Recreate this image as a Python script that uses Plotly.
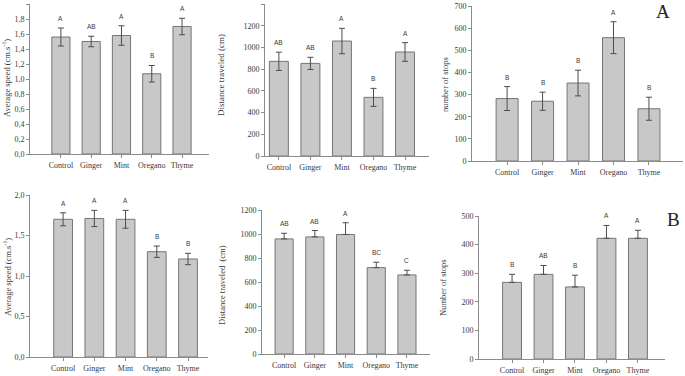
import plotly.graph_objects as go

categories = ["Control", "Ginger", "Mint", "Oregano", "Thyme"]

# Panel A
speed_a = [1.56, 1.50, 1.58, 1.07, 1.70]
speed_a_err = [0.12, 0.07, 0.13, 0.11, 0.11]
speed_a_letters = ["A", "AB", "A", "B", "A"]

dist_a = [872, 853, 1059, 540, 958]
dist_a_err = [84, 56, 117, 83, 86]
dist_a_letters = ["AB", "AB", "A", "B", "A"]

stops_a = [282, 270, 352, 557, 236]
stops_a_err = [54, 41, 58, 72, 52]
stops_a_letters = ["B", "B", "B", "A", "B"]

# Panel B
speed_b = [1.70, 1.71, 1.70, 1.30, 1.21]
speed_b_err = [0.08, 0.10, 0.11, 0.07, 0.07]
speed_b_letters = ["A", "A", "A", "B", "B"]

dist_b = [959, 976, 996, 720, 659]
dist_b_err = [47, 53, 98, 45, 39]
dist_b_letters = ["AB", "AB", "A", "BC", "C"]

stops_b = [268, 296, 252, 422, 422]
stops_b_err = [28, 31, 41, 45, 28]
stops_b_letters = ["B", "AB", "B", "A", "A"]

W, H = 685, 376
SERIF = "Liberation Serif"
AX = "#8c8c8c"
TXT = "#3a3a3a"

panels = [
    dict(vals=speed_a, err=speed_a_err, letters=speed_a_letters, both=True,
         px=(30, 209), py=(4, 154), yr=[0, 2], xr=[-1.02, 4.89], bw=0.6,
         tickvals=[0, 0.2, 0.4, 0.6, 0.8, 1.0, 1.2, 1.4, 1.6, 1.8, 2.0],
         ticktext=["0,0", "0,2", "0,4", "0,6", "0,8", "1,0", "1,2", "1,4", "1,6", "1,8", "2,0"],
         title="Average speed (cm.s<sup>-1</sup>)", tpos=(7, 78), tsize=8.5),
    dict(vals=dist_a, err=dist_a_err, letters=dist_a_letters, both=True,
         px=(265, 429), py=(4, 156), yr=[0, 1400], xr=[-0.44, 4.76], bw=0.6,
         tickvals=[0, 200, 400, 600, 800, 1000, 1200, 1400],
         ticktext=["0", "200", "400", "600", "800", "1000", "1200", "1400"],
         title="Distance traveled (cm)", tpos=(221, 75), tsize=9),
    dict(vals=stops_a, err=stops_a_err, letters=stops_a_letters, both=True,
         px=(472, 683), py=(6, 161), yr=[0, 700], xr=[-0.99, 4.96], bw=0.62,
         tickvals=[0, 100, 200, 300, 400, 500, 600, 700],
         ticktext=["0", "100", "200", "300", "400", "500", "600", "700"],
         title="number of stops", tpos=(445, 85), tsize=8.5),
    dict(vals=speed_b, err=speed_b_err, letters=speed_b_letters, both=True,
         px=(30, 208), py=(195, 357), yr=[0, 2], xr=[-1.06, 4.64], bw=0.6,
         tickvals=[0, 0.5, 1.0, 1.5, 2.0],
         ticktext=["0,0", "0,5", "1,0", "1,5", "2,0"],
         title="Average speed (cm.s<sup>-1</sup>)", tpos=(7, 277), tsize=8.5),
    dict(vals=dist_b, err=dist_b_err, letters=dist_b_letters, both=False,
         px=(262, 430), py=(210, 354), yr=[0, 1200], xr=[-0.72, 4.75], bw=0.59,
         tickvals=[0, 200, 400, 600, 800, 1000, 1200],
         ticktext=["0", "200", "400", "600", "800", "1000", "1200"],
         title="Distance traveled  (cm)", tpos=(222, 285), tsize=8.5),
    dict(vals=stops_b, err=stops_b_err, letters=stops_b_letters, both=False,
         px=(479, 665), py=(216, 359), yr=[0, 500], xr=[-1.05, 4.86], bw=0.6,
         tickvals=[0, 100, 200, 300, 400, 500],
         ticktext=["0", "100", "200", "300", "400", "500"],
         title="Number of stops", tpos=(443, 288), tsize=8.5),
]

fig = go.Figure()
layout = dict(width=W, height=H, margin=dict(l=0, r=0, t=0, b=0, autoexpand=False),
              paper_bgcolor="white", plot_bgcolor="white", showlegend=False)
annotations = []

for i, p in enumerate(panels, start=1):
    xa = "x" if i == 1 else f"x{i}"
    ya = "y" if i == 1 else f"y{i}"
    err_y = dict(type="data", array=p["err"], color="#4d4d4d", thickness=1, width=3, visible=True)
    if not p["both"]:
        err_y["symmetric"] = False
        err_y["arrayminus"] = [0] * len(p["err"])
    fig.add_trace(go.Bar(x=categories, y=p["vals"], xaxis=xa, yaxis=ya, width=p["bw"],
                         marker=dict(color="#c8c8c8", line=dict(color="#767676", width=1)),
                         error_y=err_y, hoverinfo="skip"))
    xd = [p["px"][0] / W, p["px"][1] / W]
    yd = [1 - p["py"][1] / H, 1 - p["py"][0] / H]
    layout[f"xaxis{i}"] = dict(domain=xd, anchor=ya, type="category", range=p["xr"],
                               showline=True, linecolor=AX, linewidth=1, ticks="outside",
                               ticklen=3, tickcolor=AX, showgrid=False, zeroline=False,
                               tickangle=0, automargin=False,
                               tickfont=dict(family=SERIF, size=8, color=TXT), fixedrange=True)
    layout[f"yaxis{i}"] = dict(domain=yd, anchor=xa, range=p["yr"], tickvals=p["tickvals"],
                               ticktext=p["ticktext"], showline=True, linecolor=AX, linewidth=1,
                               ticks="outside", ticklen=3, tickcolor=AX, showgrid=False,
                               zeroline=False, automargin=False,
                               tickfont=dict(family=SERIF, size=8, color=TXT),
                               fixedrange=True)
    for c, v, e, t in zip(categories, p["vals"], p["err"], p["letters"]):
        annotations.append(dict(x=c, y=v + e, xref=xa, yref=ya, text=t, showarrow=False,
                                xanchor="center", yanchor="bottom", yshift=4,
                                font=dict(family="Liberation Sans", size=6.5, color=TXT)))
    annotations.append(dict(x=p["tpos"][0] / W, y=1 - p["tpos"][1] / H, xref="paper", yref="paper",
                            text=p["title"], textangle=-90, showarrow=False,
                            xanchor="center", yanchor="middle",
                            font=dict(family=SERIF, size=p["tsize"], color=TXT)))

annotations.append(dict(x=663 / W, y=1 - 12 / H, xref="paper", yref="paper", text="A",
                        xanchor="center", yanchor="middle",
                        showarrow=False, font=dict(family=SERIF, size=19, color="#222222")))
annotations.append(dict(x=673 / W, y=1 - 219 / H, xref="paper", yref="paper", text="B",
                        xanchor="center", yanchor="middle",
                        showarrow=False, font=dict(family=SERIF, size=19, color="#222222")))

layout["annotations"] = annotations
fig.update_layout(**layout)
fig.write_html("out.html", config={"displayModeBar": False, "staticPlot": True},
               post_script="document.body.style.margin='0';document.body.style.padding='0';")
